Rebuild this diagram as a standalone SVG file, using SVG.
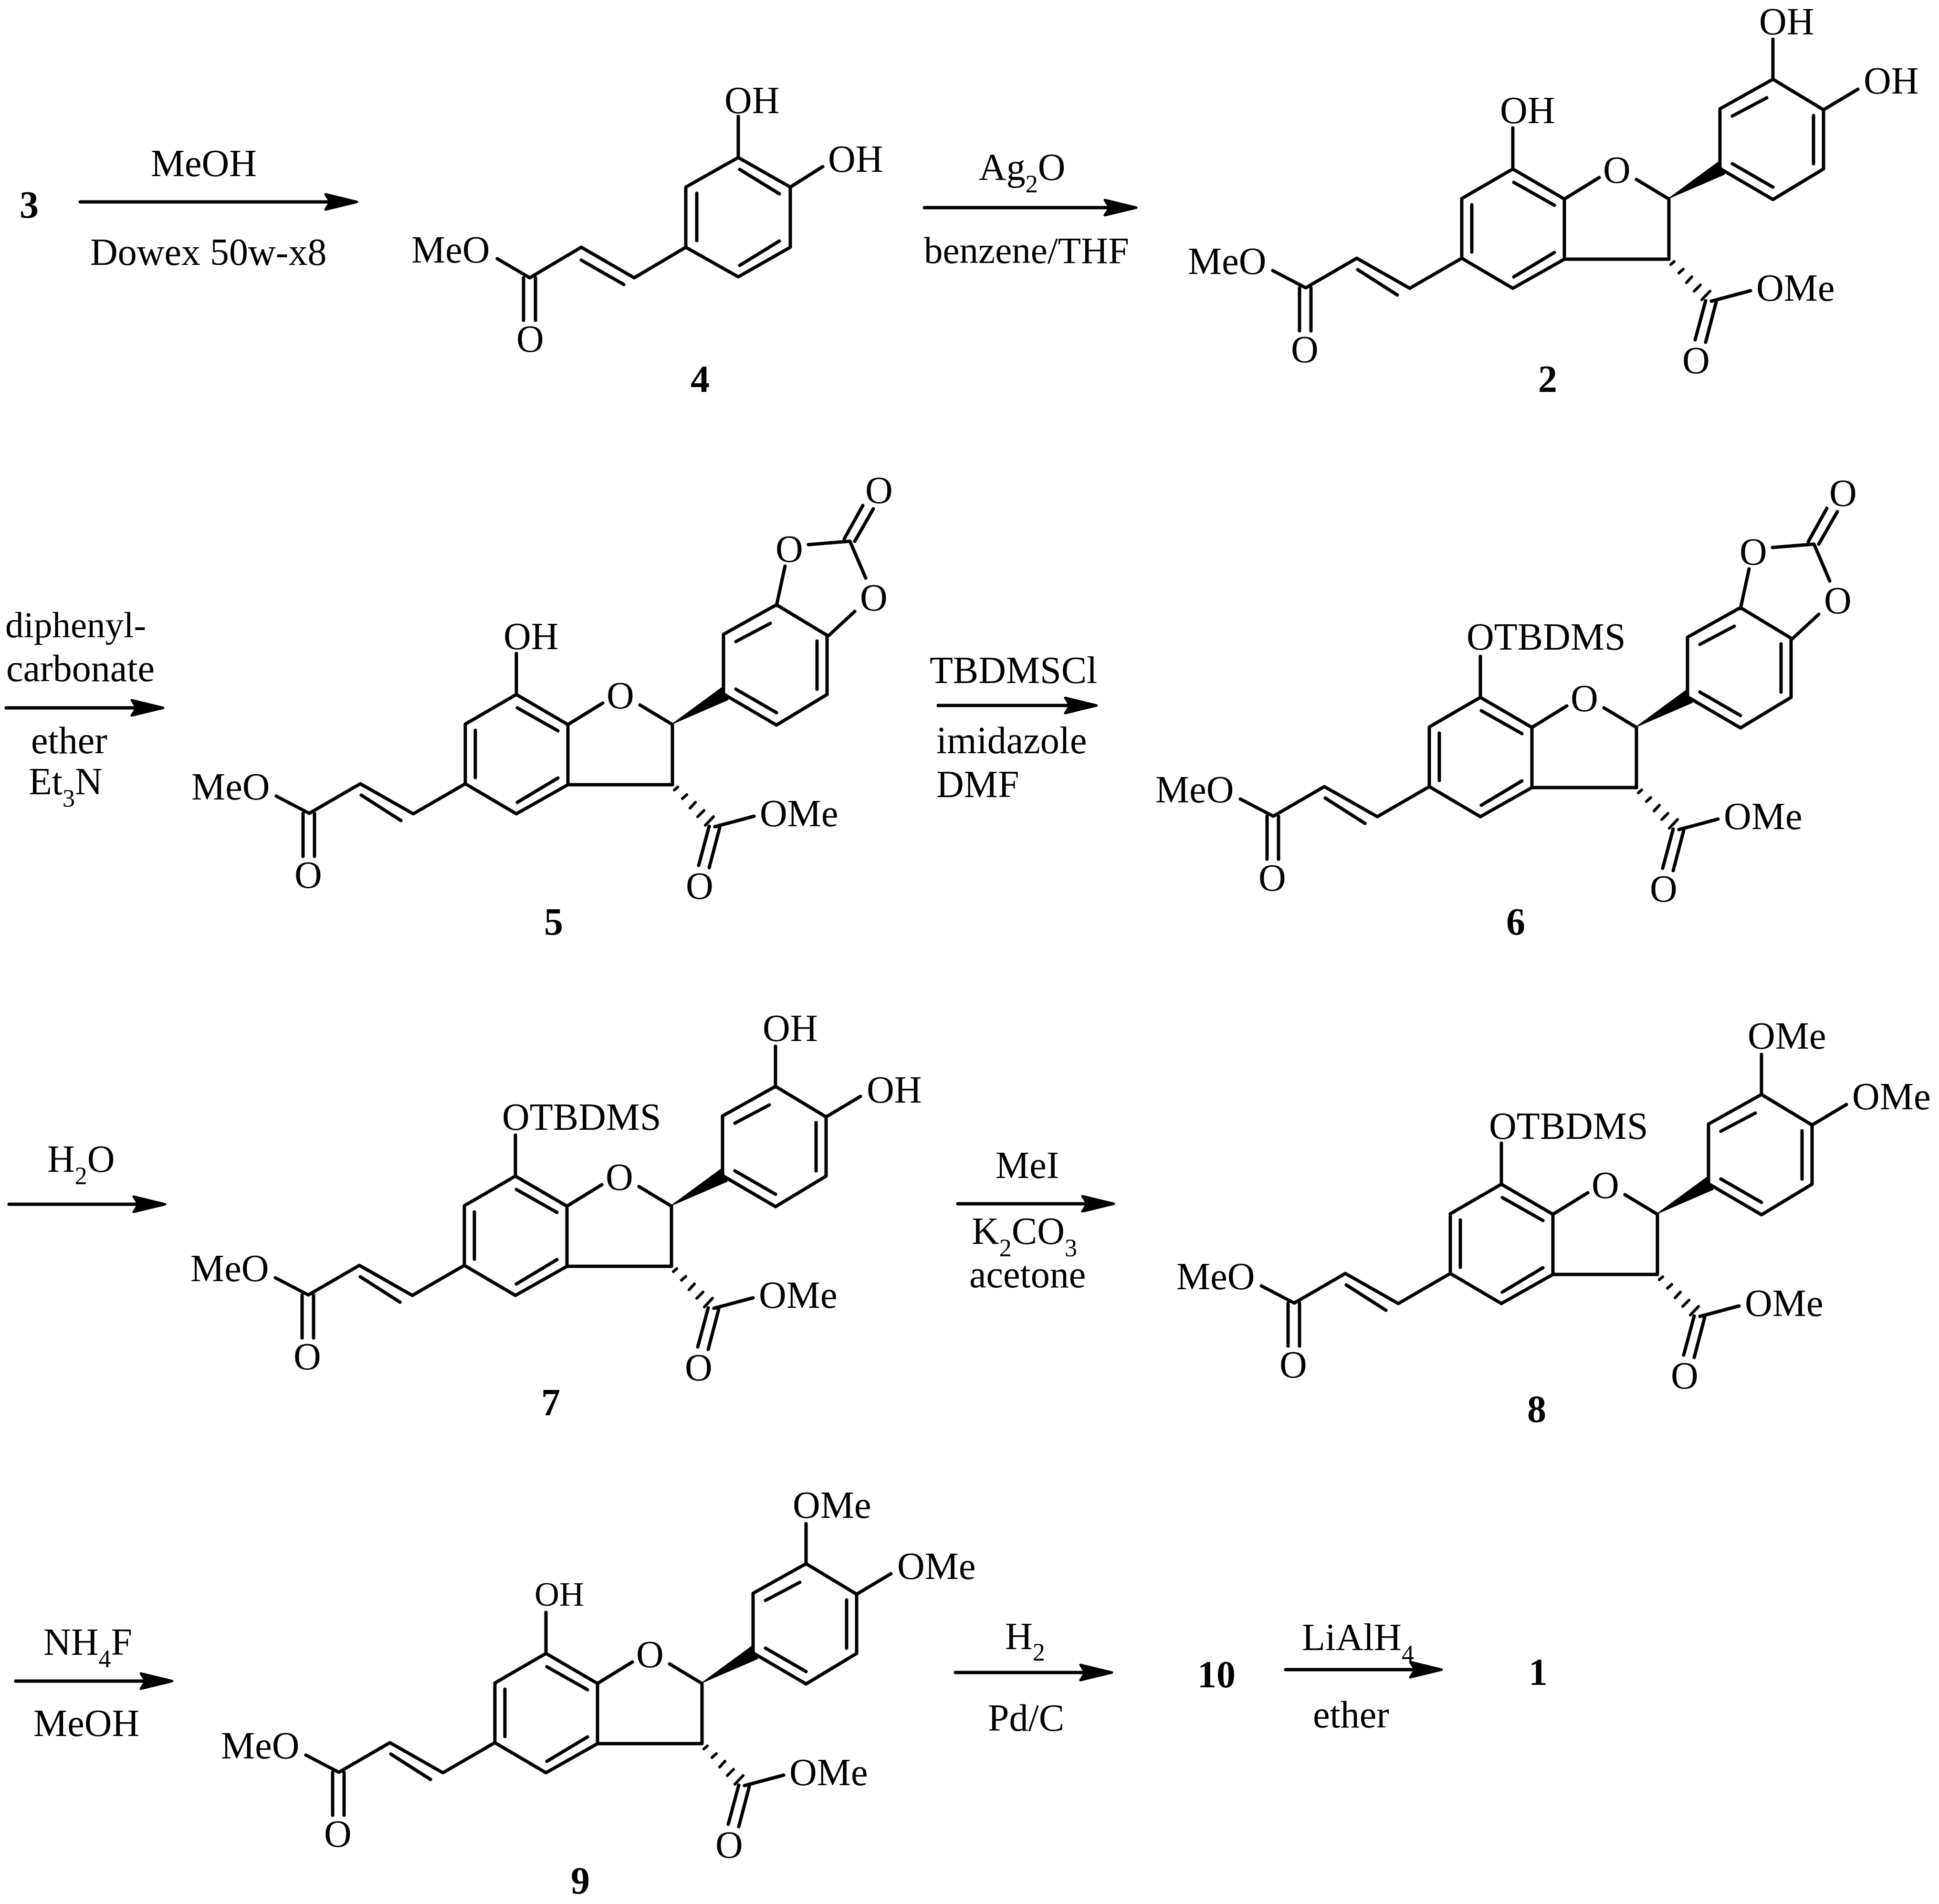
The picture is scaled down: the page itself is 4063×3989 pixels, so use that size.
<svg xmlns="http://www.w3.org/2000/svg" xmlns:xlink="http://www.w3.org/1999/xlink" width="4063" height="3989" viewBox="0 0 4063 3989">
<style>
text{font-family:"Liberation Serif","Times New Roman",serif;font-size:80px;fill:#000}
.b{font-weight:bold;text-anchor:middle}
.m{text-anchor:middle}
.s{font-size:52px}
.bond{fill:none;stroke:#000;stroke-width:7;stroke-linecap:round;stroke-linejoin:round}
.hash{fill:none;stroke:#000;stroke-width:6;stroke-linecap:round}
.arrow{fill:none;stroke:#000;stroke-width:7;stroke-linecap:round;marker-end:url(#head)}
</style>
<defs>
<marker id="head" markerUnits="userSpaceOnUse" viewBox="0 0 74 40" markerWidth="74" markerHeight="40" refX="48" refY="20" orient="auto">
<path d="M70 20L4 4L14 20L4 36Z" fill="#000" stroke="#000" stroke-width="5" stroke-linejoin="round"/>
</marker>
<g id="core">
<path class="bond" d="M3170 268L3170 354L3278 417L3278 543L3170 604L3063 541L3063 416L3170 354M3278 417L3351 372M3429 376L3497 417L3497 543L3278 543M3172 382L3257 430M3084 429L3084 528M3172 580L3257 529M3063 541L2954 604L2843 541L2736 603L2667 567M2845 565L2928 618M2723 603L2723 693M2747 603L2747 693M3586 631L3668 609M3574 630L3552 712M3596 633L3574 717"/>
<path class="hash" d="M3501 554L3508 548M3518 572L3527 564M3534 592L3545 580M3550 610L3563 597M3566 628L3583 610"/>
<path d="M3496 416L3601 339L3608 353L3614 365Z" fill="#000" stroke="#000" stroke-width="1.5" stroke-linejoin="round"/>
<path class="bond" d="M3604 353L3604 228L3715 166L3821 230L3821 354L3715 418L3604 353M3630 243L3702 205M3800 242L3800 343M3630 343L3715 392"/>
<text x="2489" y="574">MeO</text>
<text class="m" x="2734" y="759">O</text>
<text class="m" x="3388" y="383">O</text>
<text x="3680" y="630">OMe</text>
<text class="m" x="3554" y="782">O</text>
</g>
<path id="dioxy" class="bond" d="M3821 230L3893 187M3715 166L3715 82"/>
<g id="carbonate">
<path class="bond" d="M3715 168L3733 85M3782 40L3869 33L3902 110M3879 180L3824 231M3857 28L3896 -42M3879 33L3918 -35"/>
<text class="m" x="3742" y="76">O</text>
<text class="m" x="3919" y="178">O</text>
<text class="m" x="3930" y="-47">O</text>
</g>
</defs>

<g id="connectors">
<line class="arrow" x1="168" y1="423" x2="726" y2="423"/>
<line class="arrow" x1="1937" y1="435" x2="2359" y2="435"/>
<line class="arrow" x1="13" y1="1483" x2="320" y2="1483"/>
<line class="arrow" x1="1966" y1="1478" x2="2276" y2="1478"/>
<line class="arrow" x1="19" y1="2523" x2="324" y2="2523"/>
<line class="arrow" x1="2007" y1="2522" x2="2312" y2="2522"/>
<line class="arrow" x1="33" y1="3522" x2="339" y2="3522"/>
<line class="arrow" x1="2002" y1="3504" x2="2308" y2="3504"/>
<line class="arrow" x1="2694" y1="3498" x2="2999" y2="3498"/>
</g>

<g id="reagents">
<text class="m" x="427" y="369">MeOH</text>
<text x="189" y="555">Dowex 50w-x8</text>
<text x="2051" y="377">Ag<tspan class="s" dy="26">2</tspan><tspan dy="-26">O</tspan></text>
<text x="1936" y="551" style="font-size:79px">benzene/THF</text>
<text x="11" y="1335" style="font-size:77px">diphenyl-</text>
<text x="13" y="1427">carbonate</text>
<text x="65" y="1578">ether</text>
<text x="60" y="1664">Et<tspan class="s" dy="26">3</tspan><tspan dy="-26">N</tspan></text>
<text x="1948" y="1431">TBDMSCl</text>
<text x="1962" y="1578">imidazole</text>
<text x="1962" y="1670">DMF</text>
<text x="99" y="2455">H<tspan class="s" dy="26">2</tspan><tspan dy="-26">O</tspan></text>
<text x="2086" y="2468">MeI</text>
<text x="2036" y="2606">K<tspan class="s" dy="26">2</tspan><tspan dy="-26">CO</tspan><tspan class="s" dy="26">3</tspan></text>
<text x="2031" y="2697">acetone</text>
<text x="91" y="3467">NH<tspan class="s" dy="26">4</tspan><tspan dy="-26">F</tspan></text>
<text x="70" y="3637">MeOH</text>
<text x="2106" y="3455">H<tspan class="s" dy="24">2</tspan></text>
<text x="2070" y="3626">Pd/C</text>
<text x="2728" y="3457">LiAlH<tspan class="s" dy="26">4</tspan></text>
<text x="2751" y="3619">ether</text>
</g>

<g id="compound-3"><text class="b" x="61" y="456">3</text></g>

<g id="compound-4">
<path class="bond" d="M1547 244L1547 330L1656 392L1656 518L1547 580L1437 518L1437 392L1547 330M1656 392L1724 349M1460 405L1460 504M1550 355L1633 406M1550 556L1633 505M1437 518L1329 582L1218 518L1110 582L1042 542M1218 545L1307 596M1097 582L1097 671M1122 582L1122 671"/>
<text x="1518" y="237">OH</text>
<text x="1735" y="360">OH</text>
<text x="862" y="550">MeO</text>
<text class="m" x="1111" y="737">O</text>
<text class="b" x="1467" y="821">4</text>
</g>

<g id="compound-2">
<use href="#core" xlink:href="#core"/>
<use href="#dioxy" xlink:href="#dioxy"/>
<text x="3143" y="258">OH</text>
<text x="3686" y="72">OH</text>
<text x="3905" y="196">OH</text>
<text class="b" x="3243" y="821">2</text>
</g>

<g id="compound-5">
<g transform="translate(-2088 1101)">
<use href="#core" xlink:href="#core"/>
<use href="#carbonate" xlink:href="#carbonate"/>
<text x="3143" y="259">OH</text>
</g>
<text class="b" x="1160" y="1958">5</text>
</g>

<g id="compound-6">
<g transform="translate(-68 1107)">
<use href="#core" xlink:href="#core"/>
<use href="#carbonate" xlink:href="#carbonate"/>
<text x="3141" y="254">OTBDMS</text>
</g>
<text class="b" x="3176" y="1958">6</text>
</g>

<g id="compound-7">
<g transform="translate(-2090 2110)">
<use href="#core" xlink:href="#core"/>
<use href="#dioxy" xlink:href="#dioxy"/>
<text x="3142" y="257">OTBDMS</text>
<text x="3688" y="71">OH</text>
<text x="3906" y="200">OH</text>
</g>
<text class="b" x="1154" y="2965">7</text>
</g>

<g id="compound-8">
<g transform="translate(-24 2127)">
<use href="#core" xlink:href="#core"/>
<use href="#dioxy" xlink:href="#dioxy"/>
<text x="3144" y="259">OTBDMS</text>
<text x="3686" y="70">OMe</text>
<text x="3905" y="197">OMe</text>
</g>
<text class="b" x="3220" y="2979">8</text>
</g>

<g id="compound-9">
<g transform="translate(-2026 3110)">
<use href="#core" xlink:href="#core"/>
<use href="#dioxy" xlink:href="#dioxy"/>
<text x="3146" y="254" style="font-size:72px">OH</text>
<text x="3687" y="70">OMe</text>
<text x="3906" y="198">OMe</text>
</g>
<text class="b" x="1216" y="3967">9</text>
</g>

<g id="compound-10"><text class="b" x="2549" y="3535">10</text></g>
<g id="compound-1"><text class="b" x="3223" y="3530">1</text></g>
</svg>
